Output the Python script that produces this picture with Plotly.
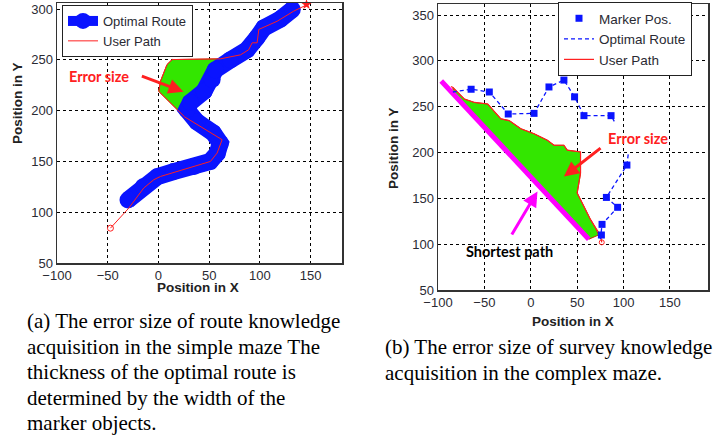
import plotly.graph_objects as go

# ---------------- Panel (a): simple maze ----------------
route_a_x = [-30, -15, -1, 15, 35, 51, 58, 61, 54, 38, 28, 31.5, 45, 53, 56, 71, 87.5, 97, 104, 120, 132]
route_a_y = [112, 125, 135, 140, 145, 150, 158, 168, 178, 189, 201, 208, 219, 230.6, 240, 250, 260, 271.7, 281.5, 290, 299.6]

user_a_x = [-47.3, -29.3, -14.5, -4.6, 2, 15.1, 28.3, 51.3, 57.9, 62.8, 25.9, 0.3, 2, 8.5, 13.5, 28.3, 61,
            81, 89, 92.4, 97.3, 99, 117, 133.4, 146, 151.6]
user_a_y = [84.3, 104, 123.8, 132, 135.2, 139.2, 143.5, 150, 158.3, 171.4, 193.8, 219, 228.9, 245.4, 250.3, 250.3, 251,
            255, 260, 266.8, 266.8, 280, 288, 298, 304.5, 306.8]

err_a_x = [25.9, 0.3, 2, 8.5, 13.5, 28.3, 61, 56, 53, 45, 31.5, 28, 25.9]
err_a_y = [193.8, 219, 228.9, 245.4, 250.3, 250.3, 251, 240, 230.6, 219, 208, 201, 193.8]

start_a = ([-47.3], [84.3])
end_a = ([146], [304.5])

# ---------------- Panel (b): complex maze ----------------
marker_b_x = [-64.3, -44.7, -24.3, 3.5, 19.6, 35.7, 47.2, 57.3, 86.5, 103.6, 81.5, 93.6, 76.8, 76.1]
marker_b_y = [269, 266, 242, 242.7, 271.5, 279, 260.7, 240.2, 240.2, 186.3, 151, 140.2, 121.6, 110]

route_b_x = [-84, -64.3, -44.7, -24.3, 3.5, 19.6, 35.7, 47.2, 57.3, 86.5, 90, None,
             105, 103.6, 81.5, 93.6, 76.8, 76.1, 75]
route_b_y = [266, 269, 266, 242, 242.7, 271.5, 279, 260.7, 240.2, 240.2, 234, None,
             198, 186.3, 151, 140.2, 121.6, 110, 105]

user_b_x = [-86, -83.9, -71.5, -60.8, -46.4, -32.2, -23.3, -10.7, 3.5, 17.9, 25, 35.7, 39.3, 53.6, 53.6,
            50, 57.2, 64.3, 69.7, 75, 76.5]
user_b_y = [272, 270.8, 258.3, 254.6, 252.9, 236.7, 234.8, 225.9, 220.5, 213.3, 207.9, 207.9, 202.5, 200.6, 177.3,
            155.8, 141.3, 127, 118, 110, 102]

err_b_x = [-83.9, -71.5, -60.8, -46.4, -32.2, -23.3, -10.7, 3.5, 17.9, 25, 35.7, 39.3, 53.6, 53.6,
           50, 57.2, 64.3, 69.7, 73, 62.5, -84, -83.9]
err_b_y = [270.8, 258.3, 254.6, 252.9, 236.7, 234.8, 225.9, 220.5, 213.3, 207.9, 207.9, 202.5, 200.6, 177.3,
           155.8, 141.3, 127, 118, 110, 105.4, 264.4, 270.8]

short_b_x = [-96.5, 62.5]
short_b_y = [278, 105.4]

end_b = ([76.5], [102])

xticks = [-100, -50, 0, 50, 100, 150]
yticks_a = [50, 100, 150, 200, 250, 300]
yticks_b = [50, 100, 150, 200, 250, 300, 350]

W, H = 717, 439
BLUE = '#0a14ff'
RED = '#ff2020'
GREEN = '#33e600'

fig = go.Figure()

# panel (a)
fig.add_trace(go.Scatter(x=err_a_x, y=err_a_y, mode='lines', fill='toself', fillcolor=GREEN,
                         line=dict(color='#b03000', width=1), showlegend=False, hoverinfo='skip',
                         xaxis='x', yaxis='y'))
fig.add_trace(go.Scatter(x=route_a_x, y=route_a_y, mode='lines+markers', name='Optimal Route',
                         line=dict(color=BLUE, width=17), marker=dict(color=BLUE, size=17),
                         xaxis='x', yaxis='y', legend='legend'))
fig.add_trace(go.Scatter(x=user_a_x, y=user_a_y, mode='lines', name='User Path',
                         line=dict(color=RED, width=1), xaxis='x', yaxis='y', legend='legend'))
fig.add_trace(go.Scatter(x=start_a[0], y=start_a[1], mode='markers', showlegend=False,
                         marker=dict(symbol='circle-open', color=RED, size=6, line=dict(width=1)),
                         xaxis='x', yaxis='y'))
fig.add_trace(go.Scatter(x=end_a[0], y=end_a[1], mode='markers', showlegend=False,
                         marker=dict(symbol='star', color=RED, size=8),
                         xaxis='x', yaxis='y', cliponaxis=False))

# panel (b)
fig.add_trace(go.Scatter(x=err_b_x, y=err_b_y, mode='lines', fill='toself', fillcolor=GREEN,
                         line=dict(color='#c03000', width=1), showlegend=False, hoverinfo='skip',
                         xaxis='x2', yaxis='y2'))
fig.add_trace(go.Scatter(x=short_b_x, y=short_b_y, mode='lines', showlegend=False,
                         line=dict(color='#ff00ff', width=5), xaxis='x2', yaxis='y2'))
fig.add_trace(go.Scatter(x=user_b_x, y=user_b_y, mode='lines', name='User Path',
                         line=dict(color=RED, width=1.2), xaxis='x2', yaxis='y2',
                         legend='legend2', legendrank=3))
fig.add_trace(go.Scatter(x=end_b[0], y=end_b[1], mode='markers', showlegend=False,
                         marker=dict(symbol='circle-open', color=RED, size=5),
                         xaxis='x2', yaxis='y2'))
fig.add_trace(go.Scatter(x=route_b_x, y=route_b_y, mode='lines', name='Optimal Route',
                         line=dict(color=BLUE, width=1.3, dash='4px,3px'), connectgaps=False,
                         xaxis='x2', yaxis='y2', legend='legend2', legendrank=2))
fig.add_trace(go.Scatter(x=marker_b_x, y=marker_b_y, mode='markers', name='Marker Pos.',
                         marker=dict(symbol='square', color=BLUE, size=7),
                         xaxis='x2', yaxis='y2', legend='legend2', legendrank=1))

axis_common = dict(showgrid=True, gridcolor='black', gridwidth=1, griddash='3px,3px', zeroline=False,
                   showline=True, linecolor='#333333', linewidth=1.5, mirror=True, ticks='',
                   automargin=False,
                   tickfont=dict(family='Liberation Sans, Arial, sans-serif', size=13, color='#2a2a33'))

fig.update_layout(
    width=W, height=H, paper_bgcolor='white', plot_bgcolor='white',
    margin=dict(l=0, r=0, t=0, b=0, autoexpand=False),
    hovermode=False,
    xaxis=dict(domain=[57 / W, 342 / W], range=[-100, 181], tickvals=xticks, anchor='y', **axis_common),
    yaxis=dict(domain=[1 - 263 / H, 1 - 3 / H], range=[50, 306], tickvals=yticks_a, anchor='x', **axis_common),
    xaxis2=dict(domain=[438 / W, 708 / W], range=[-100, 191], tickvals=xticks, anchor='y2', **axis_common),
    yaxis2=dict(domain=[1 - 290 / H, 1 - 4 / H], range=[50, 362], tickvals=yticks_b, anchor='x2', **axis_common),
    legend=dict(x=62 / W, y=1 - 5 / H, xanchor='left', yanchor='top', bgcolor='white',
                bordercolor='#222', borderwidth=1, tracegroupgap=0,
                font=dict(family='Liberation Sans, Arial, sans-serif', size=13, color='#2a2a33')),
    legend2=dict(x=558 / W, y=1 - 2 / H, xanchor='left', yanchor='top', bgcolor='white',
                 bordercolor='#222', borderwidth=1, tracegroupgap=0, entrywidth=100,
                 font=dict(family='Liberation Sans, Arial, sans-serif', size=13.5, color='#2a2a33')),
    showlegend=True,
)

ann = []
title_font = dict(family='Liberation Sans, Arial, sans-serif', size=13.5, color='#222')
# axis titles
ann.append(dict(text='<b>Position in X</b>', x=198 / W, y=1 - 287 / H, xref='paper', yref='paper',
                showarrow=False, font=title_font, xanchor='center', yanchor='middle'))
ann.append(dict(text='<b>Position in Y</b>', x=17 / W, y=1 - 103 / H, xref='paper', yref='paper',
                showarrow=False, font=title_font, textangle=-90, xanchor='center', yanchor='middle'))
ann.append(dict(text='<b>Position in X</b>', x=573 / W, y=1 - 321 / H, xref='paper', yref='paper',
                showarrow=False, font=title_font, xanchor='center', yanchor='middle'))
ann.append(dict(text='<b>Position in Y</b>', x=393 / W, y=1 - 148 / H, xref='paper', yref='paper',
                showarrow=False, font=title_font, textangle=-90, xanchor='center', yanchor='middle'))

# in-plot labels and arrows
lab_font = dict(family='Lato, Open Sans, sans-serif', size=14.5, color=RED)
ann.append(dict(text='<b>Error size</b>', x=-59, y=233.5, xref='x', yref='y', showarrow=False, font=lab_font))
ann.append(dict(text='', x=24.7, y=218.7, ax=-17.8, ay=234.5, xref='x', yref='y', axref='x', ayref='y',
                showarrow=True, arrowhead=2, arrowsize=1, arrowwidth=3, arrowcolor=RED))
ann.append(dict(text='<b>Error size</b>', x=115.8, y=215.6, xref='x2', yref='y2', showarrow=False, font=lab_font))
ann.append(dict(text='', x=35.7, y=173.7, ax=76.8, ay=206, xref='x2', yref='y2', axref='x2', ayref='y2',
                showarrow=True, arrowhead=2, arrowsize=1, arrowwidth=3, arrowcolor=RED))
ann.append(dict(text='<b>Shortest path</b>', x=-23.3, y=92, xref='x2', yref='y2', showarrow=False,
                font=dict(family='Lato, Open Sans, sans-serif', size=14.5, color='black')))
ann.append(dict(text='', x=7.2, y=157.5, ax=-21.4, ay=109, xref='x2', yref='y2', axref='x2', ayref='y2',
                showarrow=True, arrowhead=2, arrowsize=1, arrowwidth=3, arrowcolor='#ff00ff'))

# captions
cap_font = dict(family='Liberation Serif, Times New Roman, serif', size=21, color='black')
cap_a = ['(a) The error size of route knowledge', 'acquisition in the simple maze The',
         'thickness of the optimal route is', 'determined by the width of the', 'marker objects.']
for i, line in enumerate(cap_a):
    ann.append(dict(text=line, x=25 / W, y=1 - (321 + 25.5 * i) / H, xref='paper', yref='paper',
                    showarrow=False, font=cap_font, xanchor='left', yanchor='middle'))
cap_b = ['(b) The error size of survey knowledge', 'acquisition in the complex maze.']
for i, line in enumerate(cap_b):
    ann.append(dict(text=line, x=383 / W, y=1 - (347 + 25.5 * i) / H, xref='paper', yref='paper',
                    showarrow=False, font=cap_font, xanchor='left', yanchor='middle'))

fig.update_layout(annotations=ann)
fig.write_html('out.html', config={'displayModeBar': False, 'staticPlot': True},
               post_script="document.body.style.margin='0px';document.body.style.padding='0px';")
